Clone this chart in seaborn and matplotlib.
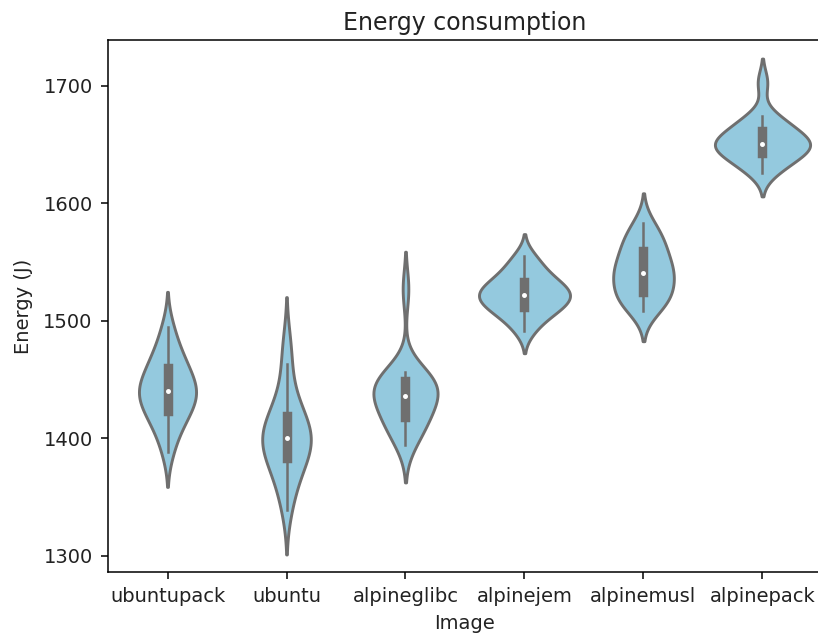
import numpy as np
import pandas as pd
import matplotlib
matplotlib.use("Agg")
import matplotlib.pyplot as plt
import seaborn as sns

images = ["ubuntupack", "ubuntu", "alpineglibc", "alpinejem", "alpinemusl", "alpinepack"]

ubuntupack = [1388, 1402, 1411, 1417, 1421, 1424, 1430, 1434, 1437, 1439,
              1441, 1444, 1447, 1451, 1459, 1461, 1466, 1472, 1482, 1495]
ubuntu = [1339, 1355, 1365, 1373, 1380, 1384, 1388, 1392, 1397, 1399,
          1401, 1404, 1408, 1412, 1418, 1422, 1430, 1442, 1463, 1482]
alpineglibc = [1394, 1402, 1408, 1413, 1416, 1420, 1426, 1431, 1434, 1436,
               1438, 1441, 1444, 1448, 1450, 1452, 1454, 1456, 1527]
alpinejem = [1491, 1500, 1505, 1509, 1511, 1514, 1517, 1520, 1521, 1523,
             1525, 1527, 1531, 1534, 1536, 1542, 1548, 1555]
alpinemusl = [1508, 1513, 1517, 1521, 1524, 1529, 1534, 1538, 1541, 1544,
              1548, 1553, 1559, 1564, 1569, 1575, 1583]
alpinepack = [1626, 1631, 1635, 1639, 1642, 1645, 1647, 1649, 1650, 1651,
              1653, 1655, 1659, 1662, 1666, 1670, 1674, 1703]

series = [ubuntupack, ubuntu, alpineglibc, alpinejem, alpinemusl, alpinepack]
rows = []
for name, vals in zip(images, series):
    for v in vals:
        rows.append({"Image": name, "Energy": v})
df = pd.DataFrame(rows)

plt.rcParams["font.family"] = ["DejaVu Sans"]

fig = plt.figure(figsize=(8.18, 6.37), dpi=100)
ax = fig.add_axes([108 / 818, 65 / 637, 714 / 818, 532 / 637])

sns.violinplot(data=df, x="Image", y="Energy", order=images, color="skyblue",
               linewidth=2.1, ax=ax,
               inner_kws=dict(box_width=6.8, whis_width=1.8, marker="o", markersize=2.2))

ax.set_ylim(1286, 1739)
ax.set_yticks([1300, 1400, 1500, 1600, 1700])
ax.set_title("Energy consumption", fontsize=17, pad=7, color="#222222")
ax.set_xlabel("Image", fontsize=14, color="#222222", labelpad=5.5)
ax.set_ylabel("Energy (J)", fontsize=14, color="#222222", labelpad=7.5)
ax.tick_params(labelsize=14, length=5, width=1.1, pad=6, labelcolor="#222222")
for s in ax.spines.values():
    s.set_linewidth(1.1)

fig.savefig("out.png", dpi=100)
